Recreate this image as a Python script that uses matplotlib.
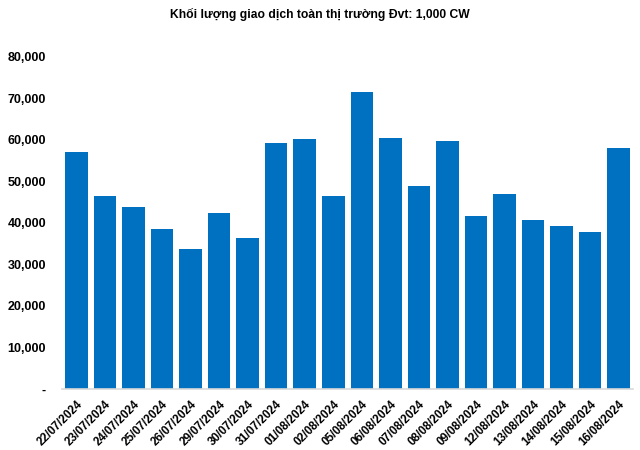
import matplotlib.pyplot as plt
from matplotlib.ticker import FuncFormatter

plt.rcParams['font.family'] = ['Liberation Sans', 'DejaVu Sans']

dates = ["22/07/2024", "23/07/2024", "24/07/2024", "25/07/2024", "26/07/2024",
         "29/07/2024", "30/07/2024", "31/07/2024", "01/08/2024", "02/08/2024",
         "05/08/2024", "06/08/2024", "07/08/2024", "08/08/2024", "09/08/2024",
         "12/08/2024", "13/08/2024", "14/08/2024", "15/08/2024", "16/08/2024"]
volume = [57000, 46400, 43800, 38500, 33700, 42300, 36300, 59200, 60100, 46400,
          71400, 60400, 48800, 59700, 41600, 46900, 40700, 39200, 37800, 58000]
y_ticks = [0, 10000, 20000, 30000, 40000, 50000, 60000, 70000, 80000]

BAR_COLOUR = "#0070c0"


def fmt(v, pos):
    # Excel-style accounting format: zero shows as a dash
    if v == 0:
        return "-"
    return "{:,.0f}".format(v)


fig = plt.figure(figsize=(6.4, 4.5), dpi=100)
ax = fig.add_axes([0.097, 0.1356, 0.892, 0.7388])

x = list(range(len(dates)))
ax.bar(x, volume, width=0.79, color=BAR_COLOUR)

ax.set_xlim(-0.5, len(dates) - 0.5)
ax.set_ylim(0, 80000)
ax.set_yticks(y_ticks)
ax.yaxis.set_major_formatter(FuncFormatter(fmt))
ax.set_xticks(x)
ax.set_xticklabels(dates, rotation=45, ha="right", rotation_mode="anchor")

for lbl in ax.get_yticklabels():
    lbl.set_fontweight("bold")
    lbl.set_fontsize(9)
for lbl in ax.get_xticklabels():
    lbl.set_fontweight("bold")
    lbl.set_fontsize(8.4)

ax.tick_params(axis="both", length=0)
ax.tick_params(axis="y", pad=11.5)
ax.tick_params(axis="x", pad=7)
for s in ["top", "right", "left"]:
    ax.spines[s].set_visible(False)
ax.spines["bottom"].set_color("#d9d9d9")
ax.spines["bottom"].set_linewidth(1.2)

fig.text(0.5, 0.968, "Khối lượng giao dịch toàn thị trường Đvt: 1,000 CW",
         ha="center", va="center", fontsize=8.7, fontweight="bold")

fig.savefig("out.png", dpi=100)
